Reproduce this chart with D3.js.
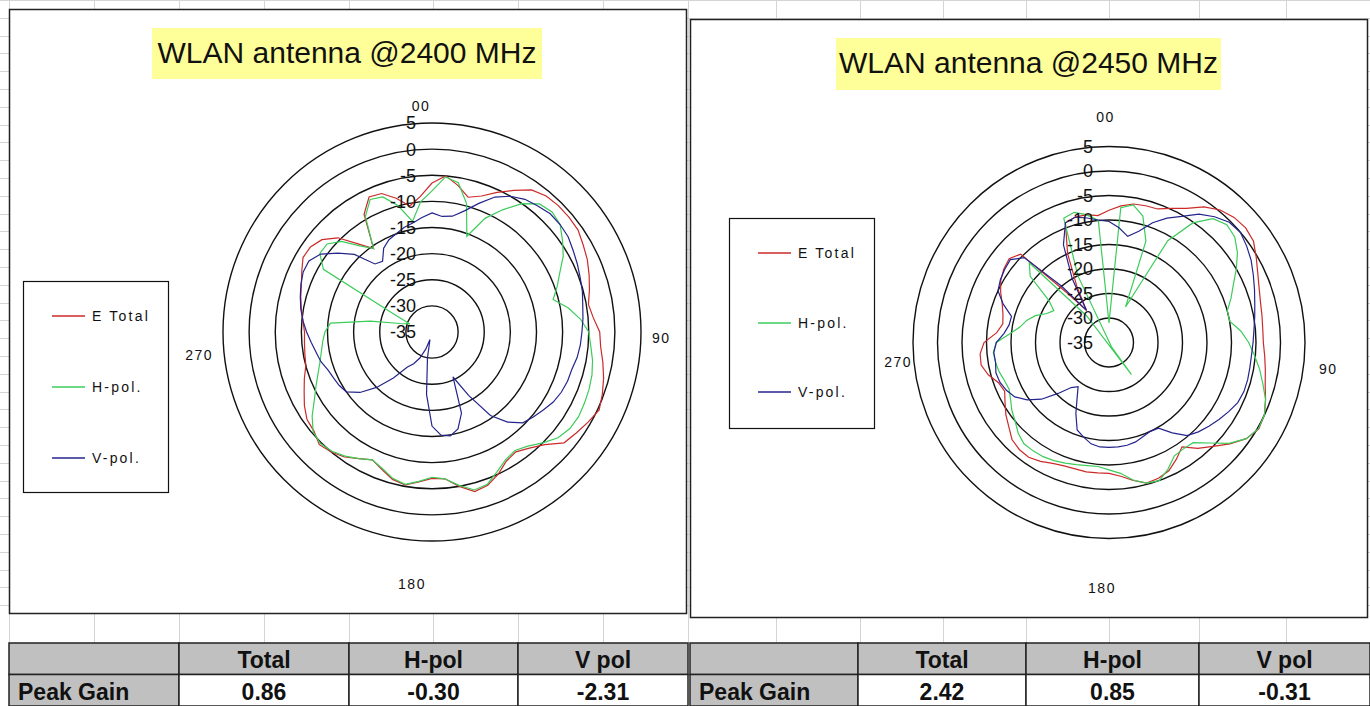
<!DOCTYPE html>
<html>
<head>
<meta charset="utf-8">
<script src="https://cdnjs.cloudflare.com/ajax/libs/d3/7.8.5/d3.min.js"></script>
<style>
  html, body { margin: 0; padding: 0; background: #fff; }
  svg { display: block; font-family: Arial, "Liberation Sans", sans-serif; }
</style>
</head>
<body>
<svg id="chart" width="1370" height="706"></svg>
<script>
// ---- data ----
const angles = [0,5,10,15,20,25,30,35,40,45,50,55,60,65,70,75,80,85,
  90,95,100,105,110,115,120,125,130,135,140,145,150,155,160,165,170,175,
  180,185,190,195,200,205,210,215,220,225,230,235,240,245,250,255,260,265,
  270,275,280,285,290,295,300,305,310,315,320,325,330,335,340,345,350,355];
const ringTicks = [5, 0, -5, -10, -15, -20, -25, -30, -35];
const categoryLabels = ["00", "90", "180", "270"];
const seriesNames = ["E Total", "H-pol.", "V-pol."];
const seriesColors = ["#cc2a2a", "#3ccc5a", "#24248c"];

// 2400 MHz
const eTotal2400 = [-6.5,-5,-6.5,-8.3,-7.3,-5.5,-3.7,-1.8,-1,-0.8,-0.8,-0.9,-1.6,-2.2,-3,-3.8,-4.6,-4,
  -2.9,-2.6,-1.8,-1,-0.3,0.3,-0.5,-1.3,-2,-4.5,-6,-7,-6.5,-5,-3.8,-3.4,-5,-6.8,
  -7,-6.2,-5.3,-5.8,-7,-8,-7,-5.8,-5,-4.5,-5.5,-5.8,-6.8,-8,-9,-10,-10.3,-10.5,
  -10.6,-10.2,-9.6,-9,-8.4,-7.5,-6.5,-6.6,-7.5,-9.5,-13,-15.5,-9,-6.5,-6.8,-8.5,-10.5,-9];
const hPol2400 = [-8,-5.2,-6,-9.5,-15.5,-11,-8,-5,-3,-2.5,-3,-4.5,-6,-8,-9.5,-11,-8.5,-6.5,
  -5,-4.5,-3.8,-3.3,-3,-2.8,-2.6,-2.8,-3.5,-5,-6.5,-7.3,-6.8,-5.5,-4,-3.7,-5.2,-6.8,
  -7.2,-6.3,-5.4,-6,-7.2,-8,-7,-6,-5.2,-4.8,-5.3,-7,-9,-10.5,-11.8,-12.8,-13.5,-14,
  -14.5,-15.5,-23,-28.7,-30.5,-27,-11,-8.8,-8.8,-10.5,-13.5,-15.5,-9.5,-7,-7.5,-10,-13.5,-10];
const vPol2400 = [-12.2,-12.8,-12.5,-11,-8.8,-6.5,-5,-4,-3.5,-3,-3,-3.2,-3.8,-4.3,-4.8,-5.2,-5.7,-6,
  -6.3,-6.5,-6.8,-7.3,-7.4,-7.7,-8.2,-9,-9.7,-10.4,-12.5,-15.5,-21,-25.5,-18.5,-15.8,-14.8,-15.2,
  -17,-23,-30,-33.5,-31.5,-29.5,-28,-26.8,-23.5,-20,-17,-15,-14.5,-14.2,-13.8,-13,-12.5,-11.8,
  -11,-10.2,-9.5,-8.9,-8.3,-7.8,-7.8,-9,-11.5,-14,-18,-18.5,-16.5,-15.5,-15,-14.3,-13.8,-13];

// 2450 MHz
const eTotal2450 = [-8,-7,-6.3,-6.1,-6,-4.8,-3.4,-1.2,0.3,1.1,1.4,1,-0.3,-1.5,-2.4,-3,-3.3,-3.5,
  -3.5,-3.1,-2.6,-2,-1,0,0.3,-0.8,-2.8,-5,-6.8,-9,-7.5,-6.1,-5.5,-5.3,-6.4,-7.6,
  -8.3,-8.3,-8.2,-8.3,-8.2,-7.8,-7,-6.4,-6.5,-7,-8.3,-9.3,-10.5,-11.5,-11,-9.5,-8.5,-8.6,
  -9.5,-12,-13,-12.6,-11.8,-10.6,-9.5,-8.8,-8.4,-9.5,-22,-27,-22,-15,-9,-8.5,-8.5,-9];
const hPol2450 = [-31,-7.4,-6.5,-8.3,-13,-27,-11,-5.2,-2,-1,-1.5,-3,-5,-7,-8.5,-10,-10,-8,
  -6.5,-5.2,-3.8,-2.5,-1,0,0.2,-0.8,-3,-6,-8.3,-8.5,-8.3,-6.5,-5,-5.3,-6.5,-8.2,
  -9,-9.6,-9.5,-9.2,-8.8,-8.4,-8.1,-8,-8,-8.8,-10,-10.8,-11.8,-12.5,-12.3,-11.8,-11.5,-11.3,
  -12,-14.7,-16.6,-17.6,-19,-21,-22,-20,-14,-12,-28,-43,-36,-20,-8,-7.5,-8.5,-10];
const vPol2450 = [-10.3,-11.5,-13,-11.5,-9,-7,-5.3,-3,-1.5,-0.3,0,-0.7,-1.5,-2.5,-3.4,-4.2,-4.8,-5.3,
  -5.6,-5.8,-5.8,-5.7,-5.7,-6,-6.8,-7.6,-8.4,-9.2,-10.2,-12.5,-14.8,-15,-14.6,-14,-13.7,-13.6,
  -13.6,-13.6,-14,-15,-16,-19,-22,-24,-23,-20.3,-17,-14.6,-12.8,-11.9,-11.3,-11.1,-11.5,-11.4,
  -12,-13.5,-14.3,-14.4,-12,-10,-9.4,-9,-8.7,-10.5,-20,-27,-20,-13,-9,-8.5,-9.2,-9.9];

const tableHeader = ["", "Total", "H-pol", "V pol"];
const rowLabel = "Peak Gain";
const peakGain2400 = ["0.86", "-0.30", "-2.31"];
const peakGain2450 = ["2.42", "0.85", "-0.31"];

// ---- layout ----
const charts = [
  {
    title: "WLAN antenna @2400 MHz",
    series: [eTotal2400, hPol2400, vPol2400],
    panel: {x: 9, y: 9, w: 677, h: 604},
    cx: 432, cy: 332, R: 209,
    titleBox: {x: 152, y: 28, w: 390, h: 51}, titleY: 63,
    legend: {x: 23, y: 281, w: 145, h: 211, rows: [316, 387, 458]},
    catOffsets: [[-11, -12, "middle"], [11, 11, "start"], [-20, 48, "middle"], [-10, 28, "end"]],
    peak: peakGain2400,
    cols: [9, 179, 349, 518, 688]
  },
  {
    title: "WLAN antenna @2450 MHz",
    series: [eTotal2450, hPol2450, vPol2450],
    panel: {x: 690, y: 19, w: 677, h: 598},
    cx: 1109, cy: 342.5, R: 196,
    titleBox: {x: 836, y: 38, w: 385, h: 52}, titleY: 73,
    legend: {x: 729, y: 218, w: 145, h: 210, rows: [253, 323, 392]},
    catOffsets: [[-3.5, -25, "middle"], [14, 31, "start"], [-7, 54, "middle"], [-1, 24, "end"]],
    peak: peakGain2450,
    cols: [690, 858, 1026, 1199, 1370]
  }
];

const svg = d3.select("#chart");

// spreadsheet grid behind everything
const gridCols = [9, 94, 179, 264, 349, 433, 518, 603, 688, 776, 860, 943, 1026, 1109, 1199, 1286];
const grid = svg.append("g").attr("stroke", "#d4d4d4").attr("stroke-width", 1);
gridCols.forEach(x => {
  grid.append("line").attr("x1", x + 0.5).attr("x2", x + 0.5).attr("y1", 0).attr("y2", 643);
});
d3.range(0, 612, 17.8).forEach(y => {
  grid.append("line").attr("x1", 0).attr("x2", 1370).attr("y1", Math.round(y) + 0.5).attr("y2", Math.round(y) + 0.5);
});

charts.forEach(c => {
  const g = svg.append("g");

  g.append("rect")
    .attr("x", c.panel.x + 0.5).attr("y", c.panel.y + 0.5)
    .attr("width", c.panel.w).attr("height", c.panel.h)
    .attr("fill", "#fff").attr("stroke", "#222").attr("stroke-width", 1.5);

  // title
  g.append("rect")
    .attr("x", c.titleBox.x).attr("y", c.titleBox.y)
    .attr("width", c.titleBox.w).attr("height", c.titleBox.h)
    .attr("fill", "#ffff99");
  g.append("text")
    .attr("x", c.titleBox.x + c.titleBox.w / 2).attr("y", c.titleY)
    .attr("text-anchor", "middle")
    .attr("font-size", "30px")
    .attr("fill", "#111")
    .text(c.title);

  const r = d3.scaleLinear().domain([-35, 5]).range([0, c.R]);
  const plot = g.append("g").attr("transform", `translate(${c.cx},${c.cy})`);

  // rings
  plot.selectAll("circle.ring")
    .data(ringTicks.filter(t => t > -35))
    .join("circle")
    .attr("class", "ring")
    .attr("r", d => r(d))
    .attr("fill", "none")
    .attr("stroke", "#111")
    .attr("stroke-width", 1.4);

  // series
  const line = d3.lineRadial()
    .angle(d => d[0] * Math.PI / 180)
    .radius(d => r(d[1]))
    .curve(d3.curveLinearClosed);

  c.series.forEach((vals, i) => {
    plot.append("path")
      .datum(angles.map((a, j) => [a, vals[j]]))
      .attr("d", line)
      .attr("fill", "none")
      .attr("stroke", seriesColors[i])
      .attr("stroke-width", 1.2);
  });

  // ring value labels
  plot.selectAll("text.tick")
    .data(ringTicks)
    .join("text")
    .attr("class", "tick")
    .attr("x", -16)
    .attr("y", d => -r(d))
    .attr("dy", "0.36em")
    .attr("text-anchor", "end")
    .attr("font-size", "18px")
    .attr("fill", "#111")
    .text(d => d);

  // category labels 0/90/180/270
  const catPos = [[0, -c.R], [c.R, 0], [0, c.R], [-c.R, 0]];
  categoryLabels.forEach((lab, i) => {
    const o = c.catOffsets[i];
    plot.append("text")
      .attr("x", catPos[i][0] + o[0])
      .attr("y", catPos[i][1] + o[1])
      .attr("text-anchor", o[2])
      .attr("font-size", "14px")
      .attr("letter-spacing", "1.5px")
      .attr("fill", "#111")
      .text(lab);
  });

  // legend
  const L = c.legend;
  g.append("rect")
    .attr("x", L.x + 0.5).attr("y", L.y + 0.5)
    .attr("width", L.w).attr("height", L.h)
    .attr("fill", "#fff").attr("stroke", "#111").attr("stroke-width", 1.2);
  seriesNames.forEach((name, i) => {
    g.append("line")
      .attr("x1", L.x + 29).attr("x2", L.x + 62)
      .attr("y1", L.rows[i]).attr("y2", L.rows[i])
      .attr("stroke", seriesColors[i]).attr("stroke-width", 1.3);
    g.append("text")
      .attr("x", L.x + 69).attr("y", L.rows[i] + 5)
      .attr("font-size", "14px")
      .attr("letter-spacing", "2.2px")
      .attr("fill", "#111")
      .text(name);
  });

  // peak gain table
  const y0 = 643, rowH = 31.5;
  const t = svg.append("g");
  const cols = c.cols;
  for (let k = 0; k < 4; k++) {
    t.append("rect")
      .attr("x", cols[k]).attr("y", y0)
      .attr("width", cols[k + 1] - cols[k]).attr("height", rowH)
      .attr("fill", "#c0c0c0").attr("stroke", "#222").attr("stroke-width", 1.5);
    t.append("rect")
      .attr("x", cols[k]).attr("y", y0 + rowH)
      .attr("width", cols[k + 1] - cols[k]).attr("height", rowH)
      .attr("fill", k === 0 ? "#c0c0c0" : "#fff").attr("stroke", "#222").attr("stroke-width", 1.5);
    if (k > 0) {
      t.append("text")
        .attr("x", (cols[k] + cols[k + 1]) / 2).attr("y", y0 + 25)
        .attr("text-anchor", "middle").attr("font-weight", "bold").attr("font-size", "23px")
        .attr("fill", "#111").text(tableHeader[k]);
      t.append("text")
        .attr("x", (cols[k] + cols[k + 1]) / 2).attr("y", y0 + rowH + 25)
        .attr("text-anchor", "middle").attr("font-weight", "bold").attr("font-size", "23px")
        .attr("fill", "#111").text(c.peak[k - 1]);
    }
  }
  t.append("text")
    .attr("x", cols[0] + 9).attr("y", y0 + rowH + 25)
    .attr("font-weight", "bold").attr("font-size", "23px")
    .attr("fill", "#111").text(rowLabel);
});
</script>
</body>
</html>
